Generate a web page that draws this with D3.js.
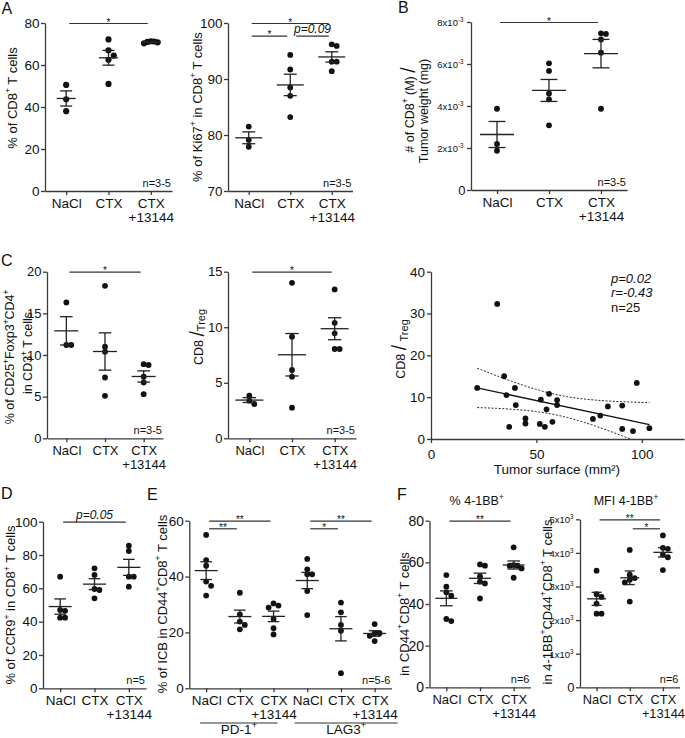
<!DOCTYPE html>
<html><head><meta charset="utf-8">
<script src="https://cdn.jsdelivr.net/npm/d3@7"></script>
<style>body{margin:0;background:#fff}svg{display:block}text{font-family:"Liberation Sans",Arial,Helvetica,sans-serif}</style>
</head><body><svg id="c" width="685" height="738"></svg>
<script>
// ---------- DATA ----------
const groups3 = ["NaCl", "CTX", "CTX|+13144"];
const icbGroups = ["NaCl", "CTX", "CTX|+13144", "NaCl", "CTX", "CTX|+13144"];
const icbMarkers = ["PD-1", "LAG3"];
// A
const cd8Pct = [[50.5, 43.7, 38.0], [72.2, 67.0, 64.5, 62.5, 51.0], [71.3, 70.8, 71.0, 70.3, 71.2]];
const ki67Pct = [[81.5, 79.1, 77.9], [94.3, 91.7, 88.5, 87.0, 83.2], [95.9, 96.2, 93.1, 93.1, 91.4]];
const ticksA1 = [0, 20, 40, 60, 80];
const ticksA2 = [70, 80, 90, 100];
// B (x10^-3)
const cd8PerMg = [[3.87, 2.19, 1.87], [6.03, 5.67, 4.60, 4.32, 3.08], [7.46, 7.43, 7.17, 6.54, 3.87]];
const ticksB = [0, 2, 4, 6, 8];
// C
const tregPct = [[16.3, 11.2, 11.2], [18.3, 11.0, 10.4, 7.3, 5.1], [8.9, 8.8, 7.4, 6.7, 5.3]];
const cd8TregRatio = [[3.84, 3.09, 3.39], [14.0, 9.15, 6.15, 5.55, 2.76], [13.4, 10.4, 9.45, 8.04, 8.04]];
const ticksC1 = [0, 5, 10, 15, 20];
const ticksC2 = [0, 5, 10, 15];
const tumorSurface = [31.4, 21.9, 34.7, 39.8, 35.8, 40.2, 37.1, 44.8, 44.8, 52.1, 51.6, 54.0, 56.0, 54.8, 57.6, 59.8, 59.8, 76.8, 80.3, 83.9, 90.7, 97.6, 90.7, 95.8, 103.6];
const cd8TregScatter = [32.3, 12.2, 15.0, 12.2, 10.5, 8.1, 2.9, 4.9, 3.7, 9.4, 3.6, 2.9, 10.8, 7.1, 4.1, 9.3, 8.1, 4.8, 5.6, 7.8, 8.0, 13.4, 2.4, 1.9, 2.6];
const ticksC3x = [0, 50, 100];
const ticksC3y = [0, 10, 20, 30, 40];
// D
const ccr9Pct = [[67.0, 47.0, 46.5, 42.4, 42.4], [72.0, 68.0, 59.6, 59.0, 54.0], [85.6, 82.4, 67.0, 67.0, 61.0]];
const ticksD = [0, 20, 40, 60, 80, 100];
// E
const icbPct = [[54.9, 45.9, 43.9, 38.2, 36.7, 33.2], [34.2, 26.5, 23.9, 22.7, 21.1], [30.4, 29.6, 28.9, 24.8, 21.5, 19.3],
                [46.3, 42.6, 40.8, 40.8, 34.8, 26.2], [30.7, 27.2, 22.7, 20.6, 5.4], [23.0, 19.7, 19.7, 18.8, 16.9]];
const ticksE = [0, 20, 40, 60];
// F
const bbPct = [[53.9, 48.3, 45.6, 44.0, 32.8, 31.8], [59.0, 58.4, 53.3, 50.7, 49.9, 42.7], [67.2, 58.7, 58.4, 58.4, 57.1, 52.6]];
const bbMfi = [[3470, 2770, 2690, 2490, 2190, 2190], [4090, 3350, 3250, 3200, 3120, 2550], [4520, 4150, 4120, 3950, 3870, 3490]];
const ticksF1 = [0, 20, 40, 60, 80];
const ticksF2 = [0, 1000, 2000, 3000, 4000, 5000];

// ---------- HELPERS ----------
const svg = d3.select("#c");
const INK = "#111", AX = "#3a3a3a";

function rich(t, parts, fs) {
  let shift = 0;
  for (const p of parts) {
    const [s, m] = typeof p === "string" ? [p, ""] : p;
    let target = 0, size = fs;
    if (m === "sup") { target = -fs * 0.42; size = fs * 0.66; }
    else if (m === "sub") { target = fs * 0.22; size = fs * 0.88; }
    else if (m === "big") { target = fs * 0.08; size = fs * 1.55; }
    const ts = t.append("tspan").attr("dy", (target - shift).toFixed(2)).attr("font-size", size.toFixed(2)).text(s);
    if (m === "it") ts.attr("font-style", "italic");
    shift = target;
  }
  return t;
}
function vText(x, y, parts, fs) {
  const t = svg.append("text").attr("transform", `translate(${x},${y}) rotate(-90)`)
    .attr("text-anchor", "middle").attr("font-size", fs).attr("fill", INK);
  rich(t, parts, fs);
}
function hText(x, y, parts, fs, anchor) {
  const t = svg.append("text").attr("x", x).attr("y", y).attr("text-anchor", anchor || "middle")
    .attr("font-size", fs).attr("fill", INK);
  rich(t, parts, fs);
  return t;
}
function styleAxis(a, fs) {
  a.attr("font-size", fs);
  a.select(".domain").attr("stroke", AX).attr("stroke-width", 1.3);
  a.selectAll(".tick line").attr("stroke", AX).attr("stroke-width", 1.3);
  a.selectAll(".tick text").attr("fill", INK);
}
function swarm(vals, y, r, maxOff) {
  const step = 2 * r * 0.85, placed = [], off = new Array(vals.length);
  const order = vals.map((v, i) => i).sort((a, b) => vals[b] - vals[a]);
  for (const i of order) {
    const py = y(vals[i]);
    for (let k = 0; k < 20; k++) {
      const c = k === 0 ? 0 : (k % 2 ? 1 : -1) * Math.ceil(k / 2) * step;
      if (placed.every(p => Math.hypot(p.x - c, p.y - py) >= step)) { off[i] = c; placed.push({x: c, y: py}); break; }
    }
  }
  const big = d3.max(off, Math.abs);
  if (big > maxOff) return off.map(v => v * maxOff / big);
  return off;
}

function dotPanel(o) {
  const fs = o.fs || 13.5, r = o.r || 2.9;
  const x = d3.scalePoint().domain(d3.range(o.cats.length)).range([o.x0, o.x1]).padding(0.5);
  const y = d3.scaleLinear().domain(o.domain).range([o.yBot, o.yTop]);
  const g = svg.append("g");
  const ya = g.append("g").attr("transform", `translate(${o.x0},0)`)
    .call(d3.axisLeft(y).tickValues(o.ticks).tickSize(4).tickSizeOuter(0).tickPadding(1.5));
  styleAxis(ya, o.yfs || fs);
  if (o.tickParts) {
    ya.selectAll(".tick text").each(function (d) {
      const sp = o.tickParts(d);
      const t = d3.select(this).text(null).attr("dy", null).attr("y", sp.fs * 0.36).attr("font-size", sp.fs);
      if (sp.dx) t.attr("x", -5.5 - sp.dx);
      rich(t, sp.parts, sp.fs);
    });
  }
  const xa = g.append("g").attr("transform", `translate(0,${o.yBot})`)
    .call(d3.axisBottom(x).tickSize(4).tickSizeOuter(0).tickFormat(""));
  styleAxis(xa, fs);
  xa.selectAll(".tick text").remove();
  xa.selectAll(".tick").each(function (i) {
    const t = d3.select(this).append("text").attr("text-anchor", "middle").attr("font-size", fs).attr("fill", INK);
    o.cats[i].split("|").forEach((L, k) => t.append("tspan").attr("x", 0).attr("y", 16.5 + k * 14).text(L));
  });
  // dots + mean ± SEM
  o.data.forEach((vals, i) => {
    const cx = x(i), off = swarm(vals, y, r, o.meanHalf * 0.72);
    g.append("g").selectAll("circle").data(vals).join("circle")
      .attr("cx", (d, k) => cx + off[k]).attr("cy", d => y(d)).attr("r", r).attr("fill", INK);
    const m = d3.mean(vals), se = d3.deviation(vals) / Math.sqrt(vals.length);
    const lw = 1.3;
    const ln = (x1, y1, x2, y2) => g.append("line").attr("x1", x1).attr("y1", y1).attr("x2", x2).attr("y2", y2)
      .attr("stroke", "#222").attr("stroke-width", lw);
    ln(cx, y(m - se), cx, y(m + se));
    ln(cx - o.capHalf, y(m + se), cx + o.capHalf, y(m + se));
    ln(cx - o.capHalf, y(m - se), cx + o.capHalf, y(m - se));
    ln(cx - o.meanHalf, y(m), cx + o.meanHalf, y(m));
  });
  (o.sig || []).forEach(s => {
    const ly = o.yTop + 0.5 + (s.lvl || 0) * (o.sigGap || 12);
    const xa1 = x(s.a) + (s.ia || 3), xb = x(s.b) - 3;
    g.append("line").attr("x1", xa1).attr("x2", xb).attr("y1", ly).attr("y2", ly).attr("stroke", "#333").attr("stroke-width", 1.2);
    const tx = g.append("text").attr("x", (xa1 + xb) / 2).attr("text-anchor", "middle").attr("fill", INK);
    if (s.it) tx.attr("y", ly - 3.5).attr("font-size", 12).attr("font-style", "italic").text(s.t);
    else tx.attr("y", ly + 2).attr("font-size", 10).text(s.t);
  });
  if (o.n) g.append("text").attr("x", o.x1 - 1).attr("y", o.yBot - 4).attr("text-anchor", "end")
    .attr("font-size", 11).attr("fill", INK).text(o.n);
  return {x, y};
}

// ---------- PANEL LETTERS ----------
[["A", 1.5, 13.5], ["B", 398, 13], ["C", 1, 266], ["D", 1, 499], ["E", 147, 500], ["F", 397, 500]]
  .forEach(([t, x, y]) => svg.append("text").attr("x", x).attr("y", y).attr("font-size", 16).attr("fill", INK).text(t));

// ---------- A ----------
dotPanel({x0: 45, x1: 172, yTop: 23, yBot: 191, domain: [0, 80], ticks: ticksA1, cats: groups3, data: cd8Pct,
  meanHalf: 9.5, capHalf: 6, r: 3.1, sig: [{a: 0, b: 2, t: "*"}], n: "n=3-5"});
vText(16.5, 98, ["% of CD8", ["+", "sup"], " T cells"], 13);
dotPanel({x0: 228, x1: 352.5, yTop: 23, yBot: 191, domain: [70, 100], ticks: ticksA2, cats: groups3, data: ki67Pct,
  meanHalf: 13.5, capHalf: 6.5, sigGap: 12.7,
  sig: [{a: 0, b: 2, lvl: 0, t: "*"}, {a: 0, b: 1, lvl: 1, t: "*"}, {a: 1, b: 2, lvl: 1, t: "p=0.09", it: true, ia: 6}], n: "n=3-5"});
vText(201.5, 107, ["% of Ki67", ["+", "sup"], " in CD8", ["+", "sup"], " T cells"], 13);

// ---------- B ----------
dotPanel({x0: 471, x1: 627, yTop: 22, yBot: 190, domain: [0, 8], ticks: ticksB, cats: groups3, data: cd8PerMg,
  meanHalf: 17, capHalf: 8.5, sig: [{a: 0, b: 2, t: "*"}], n: "n=3-5",
  tickParts: d => d === 0 ? {parts: ["0"], fs: 13} : {parts: [d + "x10", ["-3", "sup"]], fs: 9.5, dx: 2}});
vText(413.5, 110, ["# of CD8", ["+", "sup"], " (M) ", ["/", "big"]], 12.5);
vText(428, 111, ["Tumor weight (mg)"], 12.5);

// ---------- C ----------
dotPanel({x0: 47, x1: 163, yTop: 271.7, yBot: 438.3, domain: [0, 20], ticks: ticksC1, cats: groups3, data: tregPct,
  meanHalf: 12, capHalf: 6.3, fs: 13, sig: [{a: 0, b: 2, t: "*"}], n: "n=3-5"});
vText(14, 357, ["% of CD25", ["+", "sup"], "Foxp3", ["+", "sup"], "CD4", ["+", "sup"]], 12.5);
vText(32, 353, ["in CD3", ["+", "sup"], " T cells"], 12.5);
dotPanel({x0: 228, x1: 356, yTop: 271.7, yBot: 438.3, domain: [0, 15], ticks: ticksC2, cats: groups3, data: cd8TregRatio,
  meanHalf: 14, capHalf: 6.7, fs: 13, sig: [{a: 0, b: 2, t: "*"}], n: "n=3-5"});
vText(202.5, 337, ["CD8 ", ["/", "big"], ["Treg", "sub"]], 12.5);

// scatter
(function () {
  const fs = 13.5;
  const x = d3.scaleLinear().domain([0, 120]).range([431, 684]);
  const y = d3.scaleLinear().domain([0, 40]).range([439, 271.7]);
  const g = svg.append("g");
  const ya = g.append("g").attr("transform", "translate(431,0)")
    .call(d3.axisLeft(y).tickValues(ticksC3y).tickSize(4).tickSizeOuter(0).tickPadding(2));
  styleAxis(ya, fs);
  const xa = g.append("g").attr("transform", "translate(0,439)")
    .call(d3.axisBottom(x).tickValues(ticksC3x).tickSize(4).tickSizeOuter(0).tickPadding(6));
  styleAxis(xa, fs);
  const n = tumorSurface.length, mx = d3.mean(tumorSurface), my = d3.mean(cd8TregScatter);
  let sxx = 0, sxy = 0, syy = 0;
  tumorSurface.forEach((xv, i) => { const dx = xv - mx, dy = cd8TregScatter[i] - my; sxx += dx * dx; sxy += dx * dy; syy += dy * dy; });
  const b = sxy / sxx, a = my - b * mx;
  const s = Math.sqrt((syy - b * sxy) / (n - 2)), tq = 2.069;
  const [xmin, xmax] = d3.extent(tumorSurface);
  const grid = d3.range(0, 81).map(k => xmin + (xmax - xmin) * k / 80);
  const hw = xv => tq * s * Math.sqrt(1 / n + (xv - mx) ** 2 / sxx);
  svg.append("clipPath").attr("id", "clipC").append("rect").attr("x", 431).attr("y", 271.7).attr("width", 253).attr("height", 167.3);
  const line = d3.line().x(d => x(d[0])).y(d => y(d[1]));
  const cg = g.append("g").attr("clip-path", "url(#clipC)");
  [1, -1].forEach(sg => cg.append("path").attr("d", line(grid.map(xv => [xv, a + b * xv + sg * hw(xv)])))
    .attr("fill", "none").attr("stroke", "#222").attr("stroke-width", 1).attr("stroke-dasharray", "2,1.6"));
  cg.append("path").attr("d", line([[xmin, a + b * xmin], [xmax, a + b * xmax]]))
    .attr("fill", "none").attr("stroke", "#111").attr("stroke-width", 1.3);
  g.append("g").selectAll("circle").data(tumorSurface).join("circle")
    .attr("cx", d => x(d)).attr("cy", (d, i) => y(cd8TregScatter[i])).attr("r", 2.9).attr("fill", INK);
  hText(611, 282.5, [["p=0.02", "it"]], 13, "start");
  hText(611, 297, [["r=-0.43", "it"]], 13, "start");
  hText(611, 311.5, ["n=25"], 13, "start");
  hText(557, 474, ["Tumor surface (mm²)"], 13.5);
  vText(405, 349, ["CD8 ", ["/", "big"], " ", ["Treg", "sub"]], 12.5);
})();

// ---------- D ----------
dotPanel({x0: 43, x1: 146, yTop: 521.7, yBot: 688.3, domain: [0, 100], ticks: ticksD, cats: groups3, data: ccr9Pct,
  meanHalf: 11.5, capHalf: 5.8, sig: [{a: 0, b: 2, t: "p=0.05", it: true}], n: "n=5"});
vText(15, 605, ["% of CCR9", ["+", "sup"], " in CD8", ["+", "sup"], " T cells"], 13);

// ---------- E ----------
const pE = dotPanel({x0: 189.3, x1: 391.5, yTop: 520.7, yBot: 688.3, domain: [0, 60], ticks: ticksE, cats: icbGroups, data: icbPct,
  meanHalf: 11.5, capHalf: 5.8, sigGap: 7.6,
  sig: [{a: 0, b: 2, lvl: 0, t: "**"}, {a: 0, b: 1, lvl: 1, t: "**"}, {a: 3, b: 5, lvl: 0, t: "**"}, {a: 3, b: 4, lvl: 1, t: "*"}], n: "n=5-6"});
vText(166.5, 604, ["% of ICB in CD44", ["+", "sup"], "CD8", ["+", "sup"], " T cells"], 13);
[[0, 2, 6, 4], [3, 5, 12.7, 23]].forEach(([a, b, pl, pr], k) => {
  const x1 = pE.x(a) - pl, x2 = pE.x(b) + pr;
  svg.append("line").attr("x1", x1).attr("x2", x2).attr("y1", 723).attr("y2", 723).attr("stroke", "#333").attr("stroke-width", 1.2);
  hText((x1 + x2) / 2, 734, [icbMarkers[k], ["+", "sup"]], 13.5);
});

// ---------- F ----------
dotPanel({x0: 429.5, x1: 530.5, yTop: 520.7, yBot: 687.3, domain: [0, 80], ticks: ticksF1, cats: groups3, data: bbPct,
  meanHalf: 11, capHalf: 6.3, fs: 13, yfs: 14, sig: [{a: 0, b: 2, t: "**"}], n: "n=6"});
vText(408.5, 614, ["in CD44", ["+", "sup"], "CD8", ["+", "sup"], " T cells"], 13);
hText(476.7, 505, ["% 4-1BB", ["+", "sup"]], 12.5);
dotPanel({x0: 580, x1: 679.5, yTop: 519.3, yBot: 687.3, domain: [0, 5000], ticks: ticksF2, cats: groups3, data: bbMfi,
  meanHalf: 9.5, capHalf: 5, fs: 12.8, sigGap: 9, sig: [{a: 0, b: 2, lvl: 0, t: "**"}, {a: 1, b: 2, lvl: 1, t: "*"}], n: "n=6",
  tickParts: d => d === 0 ? {parts: ["0"], fs: 13} : {parts: [(d / 1000) + "x10", ["3", "sup"]], fs: 9.5, dx: 1}});
vText(551.5, 602, ["in 4-1BB", ["+", "sup"], "CD44", ["+", "sup"], "CD8", ["+", "sup"], " T cells"], 13);
hText(626, 505, ["MFI 4-1BB", ["+", "sup"]], 12.5);
</script></body></html>
